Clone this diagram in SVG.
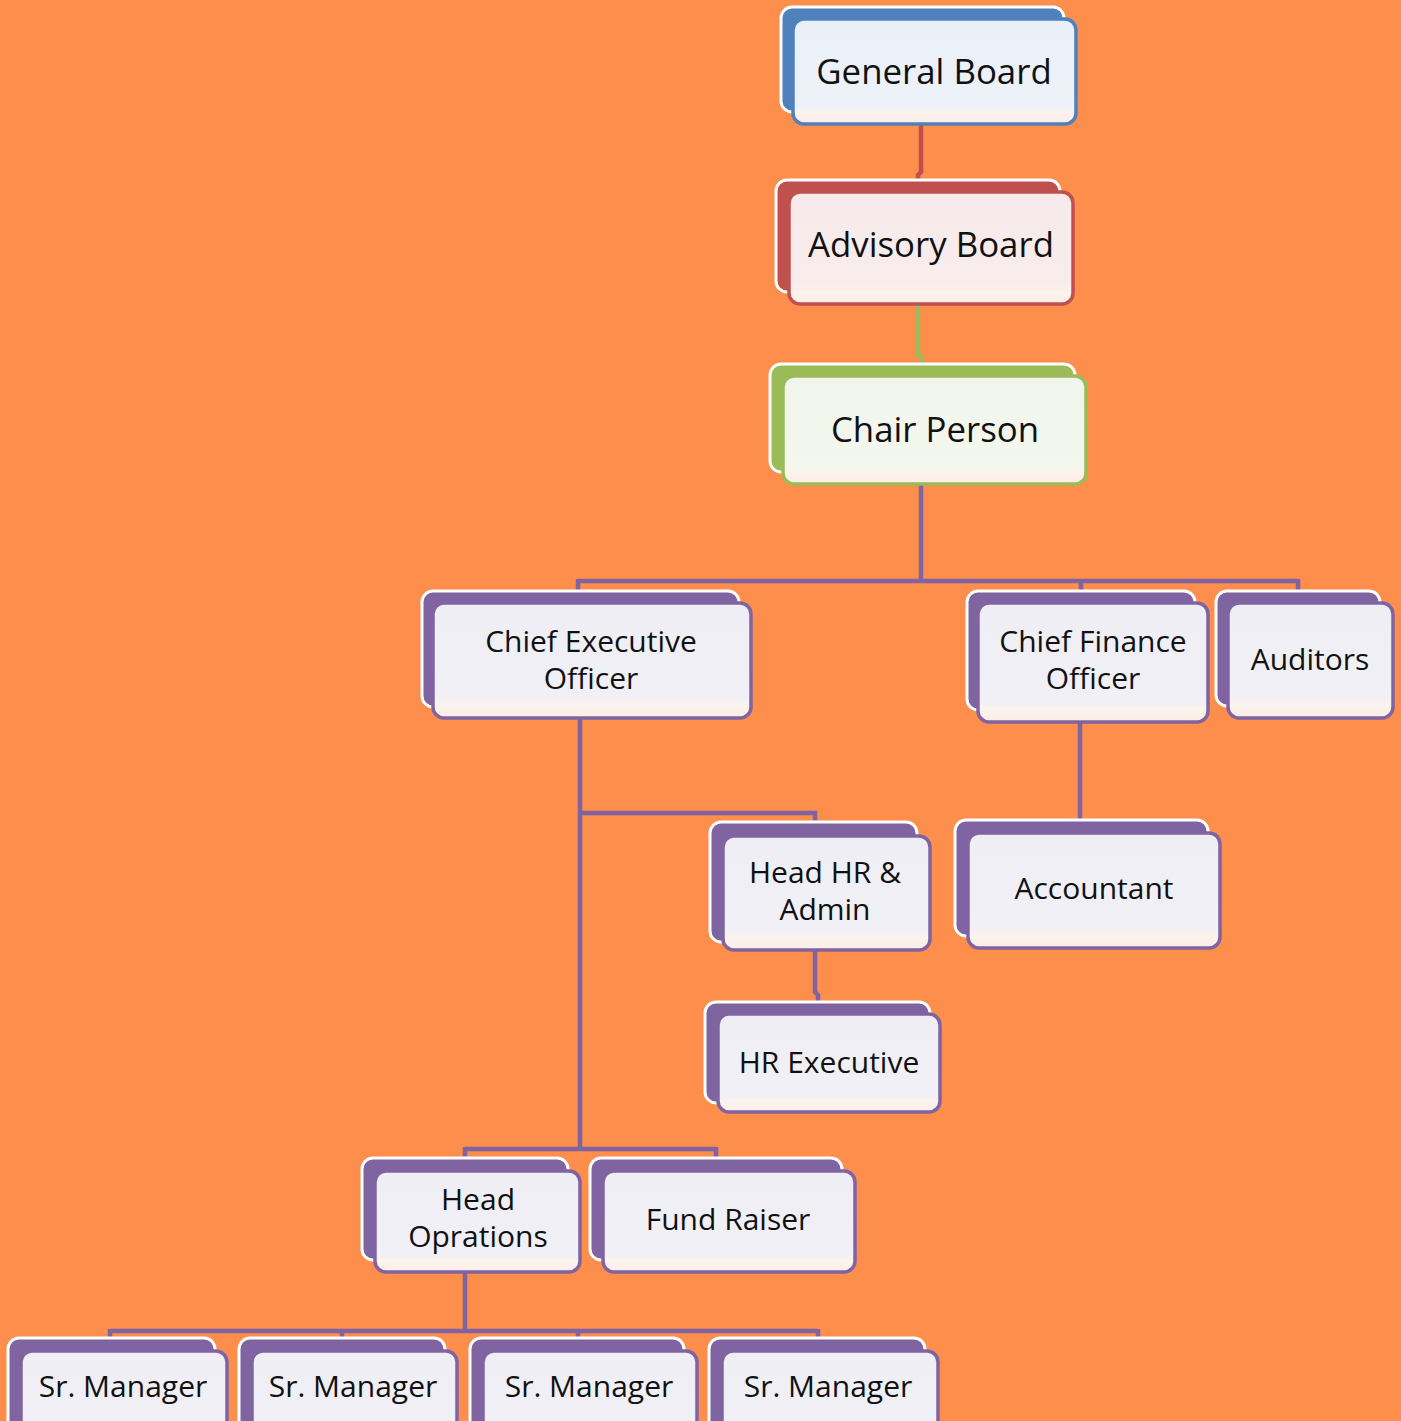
<svg xmlns="http://www.w3.org/2000/svg" width="1401" height="1421" viewBox="0 0 1401 1421">
<defs>
<linearGradient id="gP" x1="0" y1="0" x2="0" y2="1"><stop offset="0" stop-color="#EFEEF5"/><stop offset="0.82" stop-color="#F1F0F6"/><stop offset="0.9" stop-color="#FCF3EC"/><stop offset="1" stop-color="#FAEDE6"/></linearGradient>
<linearGradient id="gB" x1="0" y1="0" x2="0" y2="1"><stop offset="0" stop-color="#EAF0F8"/><stop offset="0.82" stop-color="#EDF2F9"/><stop offset="0.9" stop-color="#FCF3EC"/><stop offset="1" stop-color="#FAEDE6"/></linearGradient>
<linearGradient id="gR" x1="0" y1="0" x2="0" y2="1"><stop offset="0" stop-color="#F7EAEA"/><stop offset="0.82" stop-color="#F8EDEC"/><stop offset="0.9" stop-color="#FCF3EC"/><stop offset="1" stop-color="#FAEDE6"/></linearGradient>
<linearGradient id="gG" x1="0" y1="0" x2="0" y2="1"><stop offset="0" stop-color="#F1F5EB"/><stop offset="0.82" stop-color="#F3F7EE"/><stop offset="0.9" stop-color="#FCF3EC"/><stop offset="1" stop-color="#FAEDE6"/></linearGradient>
</defs>
<style>
.bg{fill:#FE8E4C}
.back{stroke:#FFFFFF;stroke-width:3}
.front{stroke-width:3.5}
.p .back{fill:#8064A2}.p .front{fill:url(#gP);stroke:#8064A2}
.b .back{fill:#4F81BD}.b .front{fill:url(#gB);stroke:#4F81BD}
.r .back{fill:#C0504D}.r .front{fill:url(#gR);stroke:#C0504D}
.g .back{fill:#9BBB59}.g .front{fill:url(#gG);stroke:#9BBB59}
text{font-family:"Open Sans","Noto Sans","DejaVu Sans",sans-serif;fill:#111111;text-anchor:middle}
.big{font-size:34.8px}
.t{font-size:30px}
.c{fill:none;stroke-width:4.5}
.cp{stroke:#8064A2}
.cr{stroke:#C0504D}
.cg{stroke:#9BBB59}
</style>
<rect class="bg" x="0" y="0" width="1401" height="1421"/>
<g id="connectors">
<path class="c cr" d="M921 125 V172 L918 175 V182"/>
<path class="c cg" d="M918 304 V355 L922 358 V366"/>
<path class="c cp" d="M921 484 V581 M578 581 H1298 M578 579 V594 M1081 579 V594 M1298 579 V594"/>
<path class="c cp" d="M580 719 V1150 M580 813 H815 V826 M465 1149 H716 M465 1147 V1161 M716 1147 V1161"/>
<path class="c cp" d="M815 950 V992 L818 995 V1004"/>
<path class="c cp" d="M1080 722 V822"/>
<path class="c cp" d="M465 1272 V1331 M110 1331 H818 M110 1329 V1341 M342 1329 V1341 M578 1329 V1341 M818 1329 V1341"/>
</g>
<g id="n-general" class="b"><rect class="back" x="781" y="7" width="283" height="105" rx="11"/><rect class="front" x="793" y="19" width="283" height="105" rx="11"/><text class="big" x="934" y="84">General Board</text></g>
<g id="n-advisory" class="r"><rect class="back" x="776" y="180" width="284" height="112" rx="11"/><rect class="front" x="789" y="192" width="284" height="112" rx="11"/><text class="big" x="931" y="257">Advisory Board</text></g>
<g id="n-chair" class="g"><rect class="back" x="770" y="364" width="305" height="108" rx="11"/><rect class="front" x="783" y="376" width="303" height="108" rx="11"/><text class="big" x="935" y="442">Chair Person</text></g>
<g id="n-ceo" class="p"><rect class="back" x="422" y="591" width="317" height="116" rx="11"/><rect class="front" x="433" y="603" width="318" height="115" rx="11"/><text class="t" x="591" y="652">Chief Executive</text><text class="t" x="591" y="689">Officer</text></g>
<g id="n-cfo" class="p"><rect class="back" x="967" y="591" width="228" height="119" rx="11"/><rect class="front" x="978" y="603" width="230" height="119" rx="11"/><text class="t" x="1093" y="652">Chief Finance</text><text class="t" x="1093" y="689">Officer</text></g>
<g id="n-auditors" class="p"><rect class="back" x="1216" y="591" width="164" height="115" rx="11"/><rect class="front" x="1228" y="603" width="165" height="115" rx="11"/><text class="t" x="1310" y="670">Auditors</text></g>
<g id="n-hr" class="p"><rect class="back" x="710" y="822" width="207" height="120" rx="11"/><rect class="front" x="723" y="836" width="207" height="114" rx="11"/><text class="t" x="825" y="883">Head HR &amp;</text><text class="t" x="825" y="920">Admin</text></g>
<g id="n-accountant" class="p"><rect class="back" x="955" y="820" width="253" height="116" rx="11"/><rect class="front" x="968" y="833" width="252" height="115" rx="11"/><text class="t" x="1094" y="899">Accountant</text></g>
<g id="n-hrexec" class="p"><rect class="back" x="705" y="1002" width="225" height="101" rx="11"/><rect class="front" x="718" y="1014" width="222" height="98" rx="11"/><text class="t" x="829" y="1073">HR Executive</text></g>
<g id="n-headops" class="p"><rect class="back" x="362" y="1158" width="206" height="102" rx="11"/><rect class="front" x="375" y="1171" width="205" height="101" rx="11"/><text class="t" x="478" y="1210">Head</text><text class="t" x="478" y="1247">Oprations</text></g>
<g id="n-fund" class="p"><rect class="back" x="590" y="1158" width="252" height="102" rx="11"/><rect class="front" x="603" y="1171" width="252" height="101" rx="11"/><text class="t" x="728" y="1230">Fund Raiser</text></g>
<g id="n-sm1" class="p"><rect class="back" x="8" y="1338" width="207" height="100" rx="11"/><rect class="front" x="21" y="1351" width="206" height="100" rx="11"/><text class="t" x="123" y="1397">Sr. Manager</text></g>
<g id="n-sm2" class="p"><rect class="back" x="239" y="1338" width="206" height="100" rx="11"/><rect class="front" x="252" y="1351" width="205" height="100" rx="11"/><text class="t" x="353" y="1397">Sr. Manager</text></g>
<g id="n-sm3" class="p"><rect class="back" x="470" y="1338" width="214" height="100" rx="11"/><rect class="front" x="483" y="1351" width="214" height="100" rx="11"/><text class="t" x="589" y="1397">Sr. Manager</text></g>
<g id="n-sm4" class="p"><rect class="back" x="709" y="1338" width="216" height="100" rx="11"/><rect class="front" x="722" y="1351" width="216" height="100" rx="11"/><text class="t" x="828" y="1397">Sr. Manager</text></g>
</svg>
